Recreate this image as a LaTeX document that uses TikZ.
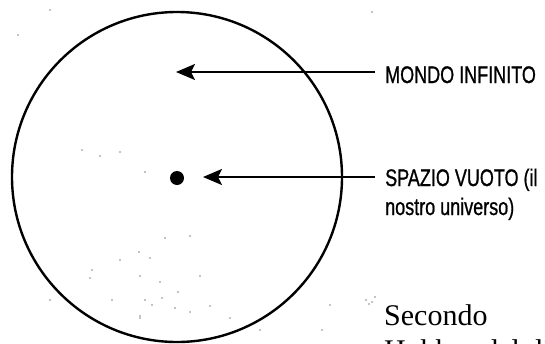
\documentclass[tikz,border=0pt]{standalone}
\usepackage{fontspec}
\setmainfont{Liberation Serif}
\newfontfamily\narrowsans[FakeStretch=0.75,FakeBold=0.8]{Liberation Sans}
\usetikzlibrary{arrows.meta}
\begin{document}
\begin{tikzpicture}[x=1pt,y=-1pt,
  pointer/.style={line width=2pt,-{Stealth[length=19pt,width=16pt,inset=4pt]}},
  label/.style={anchor=base west,inner sep=0pt,font=\narrowsans\fontsize{24}{30}\selectfont,align=left},
  speck/.style={fill=black,draw=none}]
\useasboundingbox (0,0) rectangle (545,343);
\clip (0,0) rectangle (545,343);
% big circle
\node[draw,circle,line width=2.4pt,minimum size=330pt,inner sep=0pt] (world) at (177,177) {};
% dot
\node[fill=black,circle,minimum size=14pt,inner sep=0pt] (dot) at (177,178) {};
% labels
\node[label] (mondo) at (385,83) {MONDO INFINITO};
\node[label] (spazio) at (385,186) {SPAZIO VUOTO (il};
\node[label] (nostro) at (385,215) {nostro universo)};
\node[anchor=base west,inner sep=0pt,font=\fontsize{30}{36}\selectfont] (secondo) at (384,325) {Secondo};
\node[anchor=base west,inner sep=0pt,font=\fontsize{30}{36}\selectfont] (hobbes) at (384,360) {Hobbes dal di};
% arrows
\coordinate (t1) at (176,72);
\coordinate (t2) at (203,177);
\draw[pointer] (mondo.west |- t1) ++(-10,0) coordinate (s1) -- (t1);
\draw[pointer] (spazio.west |- t2) ++(-10,0) coordinate (s2) -- (t2);
% scan specks
\foreach \p in {(50,10),(372,12),(18,35),(82,150),(100,156),(120,152),(145,172),(165,238),(190,236),
  (92,270),(90,278),(140,276),(160,282),(178,292),(200,276),(145,300),(152,305),(162,298),(175,308),
  (140,316),(190,312),(210,306),(50,300),(140,318),(230,318),(330,305),(260,330),(322,330),
  (366,300),(369,304),(372,302),(375,297),(139,252),(150,258),(120,260),(112,300)}
  \fill[speck] \p circle (0.7);
\end{tikzpicture}
\end{document}
